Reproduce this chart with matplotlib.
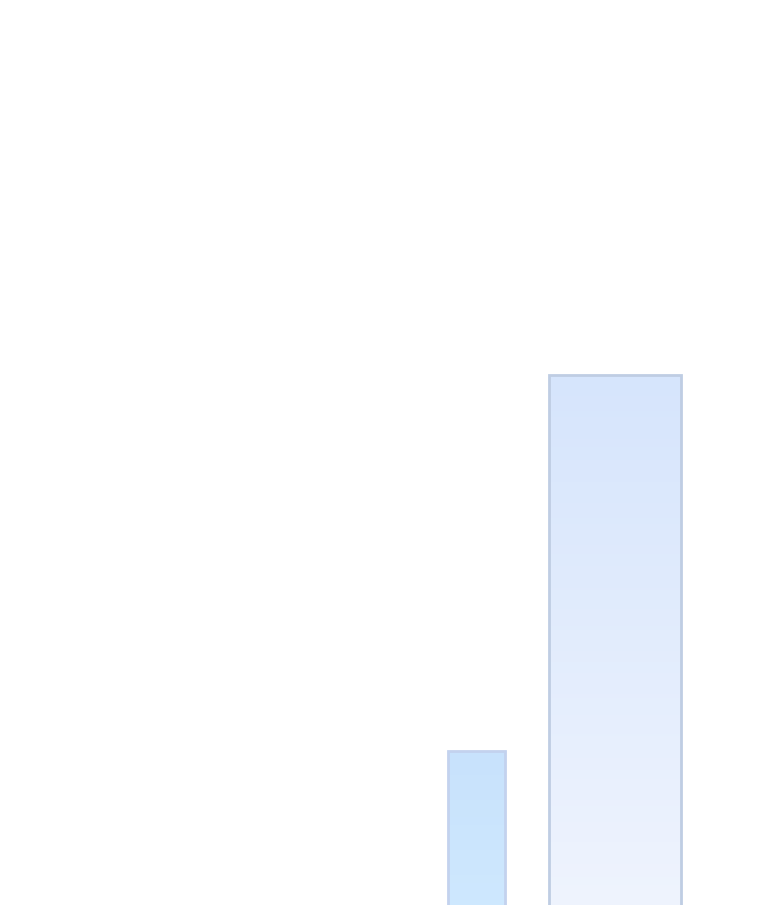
import numpy as np
import matplotlib
matplotlib.use("Agg")
import matplotlib.pyplot as plt
from matplotlib.colors import LinearSegmentedColormap

# data
categories = ["A", "B"]
values = [1.99, 5.75]

# layout (x centres and widths in axis units)
x_pos = [4.765, 6.15]
widths = [0.57, 1.32]
top_colors = ["#c8e2fc", "#d6e5fc"]
bottom_colors = ["#d0eaff", "#f1f5fe"]
edge_colors = ["#c3d2ee", "#bfcde3"]

fig = plt.figure(figsize=(7.6, 9.05), dpi=100)
ax = fig.add_axes([0, 0, 1, 1])
ax.set_xlim(0, 7.6)
ax.set_ylim(0.45, 9.5)
ax.axis("off")

bars = ax.bar(x_pos, values, width=widths, bottom=0, color="none",
              edgecolor=edge_colors, linewidth=2.0, zorder=3)

for bar, c_top, c_bot in zip(bars, top_colors, bottom_colors):
    x0 = bar.get_x()
    x1 = x0 + bar.get_width()
    h = bar.get_height()
    cmap = LinearSegmentedColormap.from_list("g", [c_bot, c_top])
    grad = np.linspace(0, 1, 256).reshape(-1, 1)
    im = ax.imshow(grad, extent=[x0, x1, 0, h], origin="lower",
                   cmap=cmap, aspect="auto", zorder=2)
    im.set_clip_path(bar)

ax.set_xlim(0, 7.6)
ax.set_ylim(0.45, 9.5)

fig.savefig("out.png", dpi=100)
